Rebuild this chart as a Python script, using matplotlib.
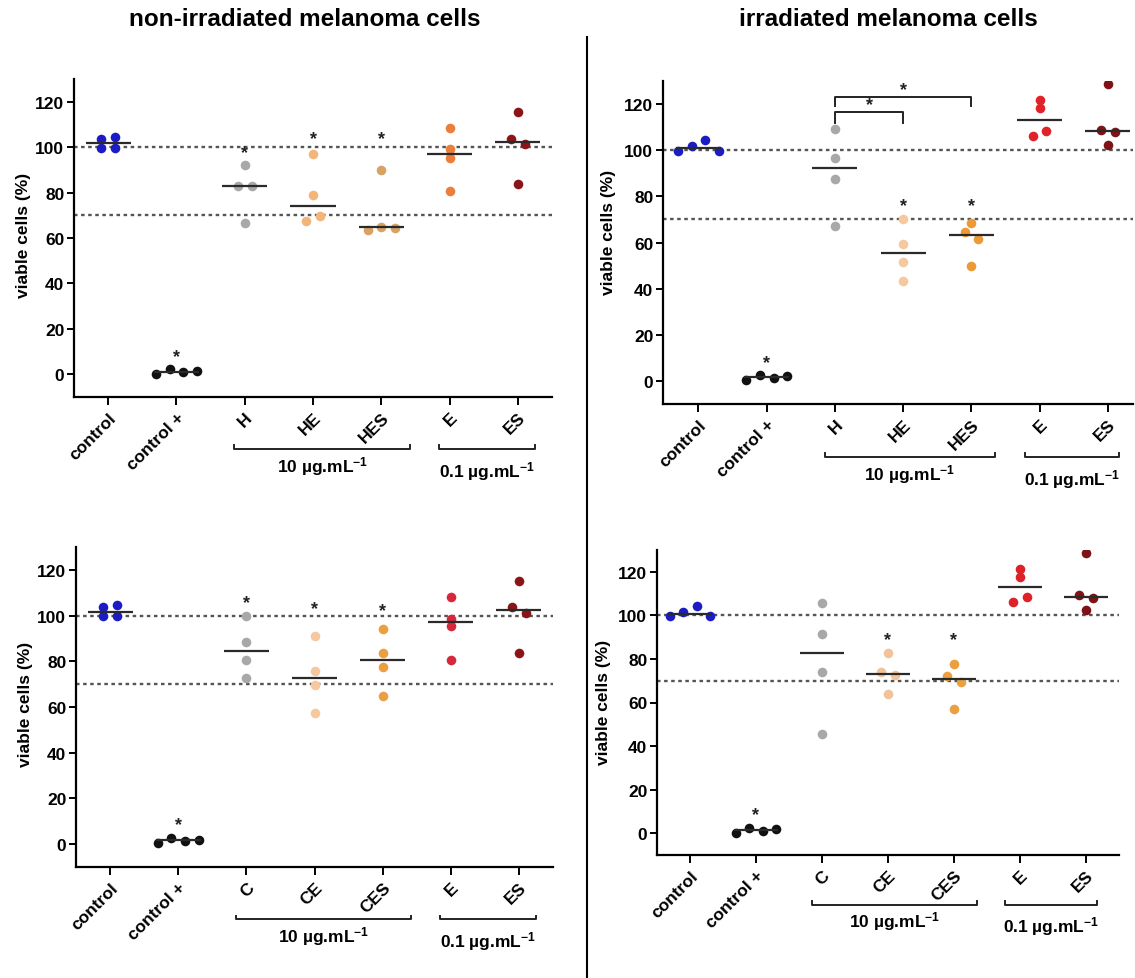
import numpy as np
import matplotlib
matplotlib.use("Agg")
import matplotlib.pyplot as plt

plt.rcParams['font.family'] = ['Liberation Sans', 'DejaVu Sans']
plt.rcParams['font.weight'] = 'bold'
plt.rcParams['axes.labelweight'] = 'bold'
plt.rcParams['mathtext.fontset'] = 'custom'
plt.rcParams['mathtext.rm'] = 'Liberation Sans:bold'
plt.rcParams['mathtext.default'] = 'rm'

# group names
labels_h = ["control", "control +", "H", "HE", "HES", "E", "ES"]
labels_c = ["control", "control +", "C", "CE", "CES", "E", "ES"]

# viable cells (%), 4 replicates per group
nonirr_h = [[99.7, 103.8, 104.5, 99.8],
            [0.2, 2.3, 0.9, 1.3],
            [92.1, 83.1, 83.1, 66.7],
            [96.9, 79.0, 67.7, 69.6],
            [89.9, 63.7, 64.9, 64.6],
            [108.3, 99.3, 95.1, 80.7],
            [115.4, 103.7, 101.2, 83.6]]
irr_h = [[99.7, 101.8, 104.4, 99.7],
         [0.3, 2.5, 1.3, 2.0],
         [109.2, 96.5, 87.7, 67.1],
         [70.3, 59.2, 51.6, 43.3],
         [68.4, 64.7, 61.5, 49.6],
         [121.7, 118.3, 106.0, 108.3],
         [128.7, 108.9, 107.8, 102.3]]
nonirr_c = [[99.7, 103.6, 104.5, 99.8],
            [0.4, 2.9, 1.5, 1.8],
            [100.0, 88.3, 80.6, 72.8],
            [91.1, 75.9, 69.8, 57.5],
            [94.0, 83.5, 77.4, 64.8],
            [108.0, 98.7, 95.3, 80.7],
            [115.0, 103.6, 101.2, 83.6]]
irr_c = [[99.7, 101.5, 104.4, 99.7],
         [0.0, 2.5, 1.1, 1.8],
         [105.8, 91.4, 74.0, 45.7],
         [82.8, 73.8, 72.7, 64.0],
         [77.6, 72.1, 69.3, 57.0],
         [121.4, 117.5, 106.1, 108.2],
         [128.7, 109.2, 108.0, 102.6]]

# significance stars: (group index, height)
stars_nonirr_h = [(1, 8.0), (2, 97.6), (3, 103.9), (4, 103.9)]
stars_irr_h = [(1, 8.0), (3, 76.1), (4, 76.1)]
stars_nonirr_c = [(1, 8.5), (2, 105.5), (3, 103.0), (4, 102.3)]
stars_irr_c = [(1, 8.4), (3, 88.8), (4, 88.8)]

# comparison brackets in irradiated H panel: (from, to, top, foot)
brackets_irr_h = [(2, 3, 116.5, 112.0), (2, 4, 123.0, 119.3)]

# concentration groups under the axis: (first, last, label)
conc_nonirr = [(1.85, 4.42, '10 µg.mL$^{-1}$'), (4.84, 6.25, '0.1 µg.mL$^{-1}$')]
conc_irr = [(1.85, 4.35, '10 µg.mL$^{-1}$'), (4.78, 6.17, '0.1 µg.mL$^{-1}$')]

ref_lines = [100, 70]

blue, black, grey = '#1c1cc4', '#111111', '#a8a8a8'
colors_nonirr_h = [blue, black, grey, '#f3b57a', '#d7a262', '#ec7e3c', '#8a1519']
colors_irr_h = [blue, black, grey, '#f5c8a0', '#ec9a38', '#e0222a', '#7e1216']
colors_nonirr_c = [blue, black, grey, '#f6c8a0', '#eaa040', '#d6283a', '#8a1519']
colors_irr_c = [blue, black, grey, '#f2c29a', '#eaa040', '#de2229', '#7e1216']


def swarm_offsets(vals, ythr=3.3, dx=0.2):
    # points closer than a marker in y are put side by side
    vals = np.asarray(vals, float)
    order = np.argsort(vals, kind='stable')
    offs = np.zeros(len(vals))
    groups, cur = [], [order[0]]
    for a, b in zip(order[:-1], order[1:]):
        if vals[b] - vals[a] < ythr:
            cur.append(b)
        else:
            groups.append(cur)
            cur = [b]
    groups.append(cur)
    for g in groups:
        g = sorted(g)
        for k, idx in enumerate(g):
            offs[idx] = (k - (len(g) - 1) / 2) * dx
    return offs


def draw_panel(ax, labels, data, colors, stars, conc, xlim=(-0.5, 6.5),
               brackets=(), ylab_pos=(-0.1, 0.52)):
    for y in ref_lines:
        ax.axhline(y, color='#555555', lw=1.7, ls=(0, (1.5, 1.5)), zorder=1)
    for i, (vals, col) in enumerate(zip(data, colors)):
        ax.scatter(i + swarm_offsets(vals), vals, s=48, color=col,
                   linewidths=0, zorder=3)
        ax.hlines(np.median(vals), i - 0.33, i + 0.33, color='#2a2a2a',
                  lw=1.6, zorder=4)
    for i, y in stars:
        ax.text(i, y, '*', ha='center', va='center', fontsize=13,
                color='#222222')
    for a, b, top, foot in brackets:
        ax.plot([a, a, b, b], [foot, top, top, foot], color='#222222',
                lw=1.4, clip_on=False)
        ax.text((a + b) / 2, top + 3.3, '*', ha='center', va='center',
                fontsize=13, color='#222222')

    ax.set_xlim(*xlim)
    ax.set_ylim(-10, 130)
    ax.set_yticks([0, 20, 40, 60, 80, 100, 120])
    ax.set_xticks(range(len(labels)))
    ax.set_xticklabels(labels, rotation=45, ha='right',
                       rotation_mode='anchor', fontsize=12.5)
    ax.tick_params(axis='y', labelsize=12.5, length=5, width=1.4, pad=2)
    ax.tick_params(axis='x', length=6, width=1.4, pad=3)
    for s in ['top', 'right']:
        ax.spines[s].set_visible(False)
    for s in ['left', 'bottom']:
        ax.spines[s].set_linewidth(1.6)
    ax.set_ylabel('viable cells (%)', fontsize=12.5)
    ax.yaxis.set_label_coords(*ylab_pos)

    # concentration brackets under the tick labels
    tr = ax.get_xaxis_transform()
    for k, (x0, x1, txt) in enumerate(conc):
        ax.plot([x0, x0, x1, x1], [-0.152, -0.164, -0.164, -0.152],
                transform=tr, color='#222222', lw=1.4, clip_on=False)
        ax.text((x0 + x1) / 2, -0.214 - 0.017 * k, txt, transform=tr,
                ha='center', va='center', fontsize=12.5)


W, H = 1135, 979
fig = plt.figure(figsize=(W / 100, H / 100), dpi=100)


def px_axes(left, right, top, bottom):
    return fig.add_axes([left / W, 1 - bottom / H, (right - left) / W,
                         (bottom - top) / H])


ax_tl = px_axes(74, 552, 80, 398)
ax_tr = px_axes(663, 1133, 82, 405)
ax_bl = px_axes(76, 553, 548, 868)
ax_br = px_axes(657, 1119, 551, 856)

draw_panel(ax_tl, labels_h, nonirr_h, colors_nonirr_h, stars_nonirr_h,
           conc_nonirr, ylab_pos=(-0.09, 0.51))
draw_panel(ax_tr, labels_h, irr_h, colors_irr_h, stars_irr_h, conc_irr,
           xlim=(-0.52, 6.37), brackets=brackets_irr_h,
           ylab_pos=(-0.1, 0.535))
draw_panel(ax_bl, labels_c, nonirr_c, colors_nonirr_c, stars_nonirr_c,
           conc_nonirr, ylab_pos=(-0.09, 0.51))
draw_panel(ax_br, labels_c, irr_c, colors_irr_c, stars_irr_c, conc_irr,
           ylab_pos=(-0.1, 0.505))

fig.text(305 / W, 1 - 20 / H, 'non-irradiated melanoma cells', ha='center',
         va='center', fontsize=17.5)
fig.text(888 / W, 1 - 20 / H, 'irradiated melanoma cells', ha='center',
         va='center', fontsize=17.5)

# divider between the two columns
fig.add_artist(plt.Line2D([587 / W, 587 / W], [0, 1 - 38 / H],
                          transform=fig.transFigure, color='black', lw=1.5))

fig.savefig('out.png', dpi=100)
